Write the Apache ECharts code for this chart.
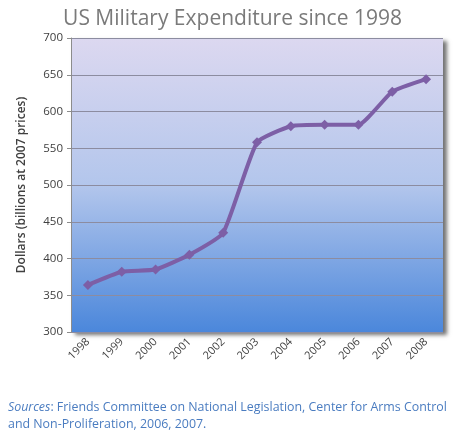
<!DOCTYPE html>
<html><head><meta charset="utf-8">
<script src="https://cdn.jsdelivr.net/npm/echarts@6/dist/echarts.min.js"></script>
<style>html,body{margin:0;padding:0;background:#fff}#c{width:465px;height:441px}</style>
</head><body><div id="c"></div>
<script>
const years = ['1998','1999','2000','2001','2002','2003','2004','2005','2006','2007','2008'];
const spending = [364, 382, 385, 405, 435, 558, 580, 582, 582, 627, 644];
const yTicks = {min: 300, max: 700, interval: 50};
const titleText = 'US Military Expenditure since 1998';
const yAxisTitle = 'Dollars (billions at 2007 prices)';
const sourceLine1 = 'Friends Committee on National Legislation, Center for Arms Control';
const sourceLine2 = 'and Non-Proliferation, 2006, 2007.';

const chart = echarts.init(document.getElementById('c'));
chart.setOption({
  animation: false,
  title: [{
    text: titleText, left: 'center', top: 4,
    textStyle: {fontFamily: 'Open Sans', fontSize: 21, fontWeight: 'normal', color: '#7a7a7a'}
  }, {
    text: '{i|Sources}: ' + sourceLine1 + '\n' + sourceLine2,
    left: 3, top: 394,
    textStyle: {fontFamily: 'Open Sans', fontSize: 12.4, fontWeight: 'normal', color: '#4a7cc0', lineHeight: 17,
      rich: {i: {fontStyle: 'italic', fontWeight: 'normal', fontFamily: 'Open Sans', fontSize: 12.4, color: '#4a7cc0'}}}
  }],
  grid: {
    left: 71, right: 22, top: 38, bottom: 109, show: true, borderWidth: 0,
    backgroundColor: new echarts.graphic.LinearGradient(0, 0, 0, 1, [
      {offset: 0, color: '#dcd8f0'},
      {offset: 0.5, color: '#b3c6ec'},
      {offset: 1, color: '#4b87db'}
    ]),
    shadowColor: 'rgba(0,0,0,0.55)', shadowBlur: 4, shadowOffsetX: 4, shadowOffsetY: 3
  },
  xAxis: {
    type: 'category', data: years, boundaryGap: true,
    axisLine: {show: false}, axisTick: {show: false},
    axisLabel: {rotate: 45, fontFamily: 'Open Sans', fontSize: 11, color: '#404040', margin: 8}
  },
  yAxis: {
    type: 'value', min: yTicks.min, max: yTicks.max, interval: yTicks.interval,
    name: yAxisTitle, nameLocation: 'middle', nameGap: 43,
    nameTextStyle: {fontFamily: 'Open Sans', fontSize: 12, fontWeight: 600, color: '#404040'},
    axisLine: {show: true, lineStyle: {color: '#8c8c8c'}},
    axisTick: {show: true, length: 4, lineStyle: {color: '#8c8c8c'}},
    axisLabel: {fontFamily: 'Open Sans', fontSize: 11.5, color: '#404040', margin: 8},
    splitLine: {lineStyle: {color: '#8c8ca0', width: 1}}
  },
  series: [{
    type: 'line', data: spending, smooth: 0.15,
    symbol: 'diamond', symbolSize: 10,
    lineStyle: {color: '#7d5fa6', width: 4},
    itemStyle: {color: '#7d5fa6'}
  }]
});
</script></body></html>
